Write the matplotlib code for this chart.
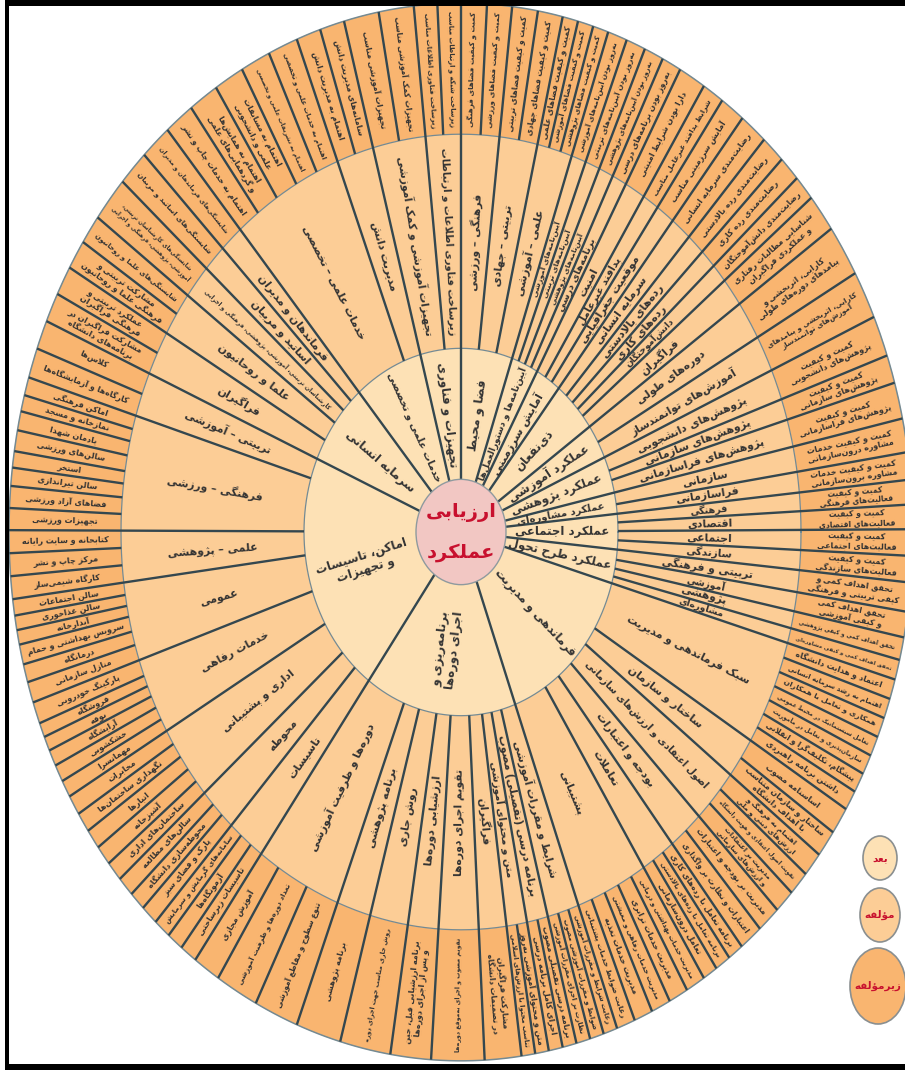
import numpy as np
import matplotlib
matplotlib.use("Agg")
import matplotlib.pyplot as plt
from matplotlib.patches import Polygon, Ellipse, Rectangle

plt.rcParams["font.family"] = ["DejaVu Sans"]

# ---- data -------------------------------------------------------------
CENTER_LABEL = ["ارزیابی", "عملکرد"]
LEGEND_LABELS = ["بعد", "مؤلفه", "زیرمؤلفه"]

DIM_LABELS = ["فضا و محیط", "آیین‌نامه‌ها و دستورالعمل‌ها", "آمایش سرزمینی", "ذی‌نفعان",
              "عملکرد آموزشی", "عملکرد پژوهشی", "عملکرد مشاوره‌ای", "عملکرد اجتماعی",
              "عملکرد طرح تحول", "فرماندهی و مدیریت", "برنامه‌ریزی و اجرای دوره‌ها",
              "اماکن، تاسیسات و تجهیزات", "سرمایه انسانی", "خدمات علمی و تخصصی", "تجهیزات و فناوری"]
DIM_NCOMPS = [3, 4, 3, 5, 2, 3, 2, 4, 4, 6, 9, 8, 5, 2, 2]

COMP_LABELS = ["فرهنگی – ورزشی", "تربیتی – جهادی", "علمی – آموزشی",
               "آیین‌نامه‌های آموزشی", "آیین‌نامه‌های تربیتی", "آیین‌نامه‌های پژوهشی", "برنامه‌های درسی",
               "امنیت", "پدافند غیرعامل", "موقعیت جغرافیایی",
               "سرمایه انسانی", "رده‌های بالادستی", "رده‌های کاری", "دانش‌آموختگان", "فراگیران",
               "دوره‌های طولی", "آموزش‌های توانمندساز",
               "پژوهش‌های دانشجویی", "پژوهش‌های سازمانی", "پژوهش‌های فراسازمانی",
               "سازمانی", "فراسازمانی",
               "فرهنگی", "اقتصادی", "اجتماعی", "سازندگی",
               "تربیتی و فرهنگی", "آموزشی", "پژوهشی", "مشاوره‌ای",
               "سبک فرماندهی و مدیریت", "ساختار و سازمان", "اصول اعتقادی و ارزش‌های سازمانی",
               "بودجه و اعتبارات", "تعاملات", "پشتیبانی",
               "شرایط و مقررات آموزشی", "برنامه درسی (تفصیلی) مصوب", "متن و محتوای آموزشی", "فراگیران",
               "تقویم اجرای دوره‌ها", "ارزشیابی دوره‌ها", "روش جاری", "برنامه پژوهشی",
               "دوره‌ها و ظرفیت آموزشی",
               "تاسیسات", "محوطه", "اداری و پشتیبانی", "خدمات رفاهی", "عمومی", "علمی – پژوهشی",
               "فرهنگی – ورزشی", "تربیتی – آموزشی",
               "فراگیران", "علما و روحانیون", "کارشناسان تربیتی، آموزشی، پژوهشی، فرهنگی و اجرایی",
               "اساتید و مربیان", "فرماندهان و مدیران",
               "خدمات علمی – تخصصی", "مدیریت دانش",
               "تجهیزات آموزشی و کمک آموزشی", "زیرساخت فناوری اطلاعات و ارتباطات"]
COMP_NLEAVES = [2, 2, 3, 1, 1, 1, 1, 1, 1, 1, 1, 1, 1, 1, 1, 1, 1, 1, 1, 1, 1, 1, 1, 1, 1, 1,
                1, 1, 1, 1, 7, 2, 3, 2, 3, 5, 3, 2, 2, 1, 1, 1, 1, 1, 3, 3, 3, 5, 6, 6, 3, 8,
                2, 2, 2, 1, 1, 1, 5, 2, 2, 2]

LEAF_LABELS = [
    "کمیت و کیفیت فضاهای فرهنگی", "کمیت و کیفیت فضاهای ورزشی",
    "کمیت و کیفیت فضاهای تربیتی", "کمیت و کیفیت فضاهای جهادی",
    "کمیت و کیفیت فضاهای علمی", "کمیت و کیفیت فضاهای آموزشی", "کمیت و کیفیت فضاهای پژوهشی",
    "به‌روز بودن آیین‌نامه‌های آموزشی", "به‌روز بودن آیین‌نامه‌های تربیتی",
    "به‌روز بودن آیین‌نامه‌های پژوهشی", "به‌روز بودن برنامه‌های درسی",
    "دارا بودن شرایط امنیتی", "شرایط پدافند غیرعامل مناسب", "آمایش سرزمینی مناسب",
    "رضایت‌مندی سرمایه انسانی", "رضایت‌مندی رده بالادستی", "رضایت‌مندی رده کاری",
    "رضایت‌مندی دانش‌آموختگان", "شناسایی مطالبات رفتاری و عملکردی فراگیران",
    "کارایی، اثربخشی و پیامدهای دوره‌های طولی", "کارایی، اثربخشی و پیامدهای آموزش‌های توانمندساز",
    "کمیت و کیفیت پژوهش‌های دانشجویی", "کمیت و کیفیت پژوهش‌های سازمانی",
    "کمیت و کیفیت پژوهش‌های فراسازمانی",
    "کمیت و کیفیت خدمات مشاوره درون‌سازمانی", "کمیت و کیفیت خدمات مشاوره برون‌سازمانی",
    "کمیت و کیفیت فعالیت‌های فرهنگی", "کمیت و کیفیت فعالیت‌های اقتصادی",
    "کمیت و کیفیت فعالیت‌های اجتماعی", "کمیت و کیفیت فعالیت‌های سازندگی",
    "تحقق اهداف کمی و کیفی تربیتی و فرهنگی", "تحقق اهداف کمی و کیفی آموزشی",
    "تحقق اهداف کمی و کیفی پژوهشی", "تحقق اهداف کمی و کیفی مشاوره‌ای",
    "اعتماد و هدایت دانشگاه", "اهتمام به رشد سرمایه انسانی", "همکاری و تعامل با همکاران",
    "تعامل سیستماتیک در محیط عمومی", "سازمان‌پذیری و تعامل در مأموریت",
    "پیشگام، تکلیف‌گرا و انقلابی", "داشتن برنامه راهبردی",
    "اساسنامه مصوب", "ساختار و سازمان متناسب با اهداف دانشگاه",
    "اهتمام به فرهنگ و ارزش‌های دینی و ملی", "تقویت اصول اعتقادی و هویت دانشگاه",
    "مدیریت بر اعتقادات و ارزش‌های سازمانی",
    "مدیریت بر بودجه و اعتبارات", "اعتبارات و نظارت بر واگذاری",
    "برنامه تعامل با رده‌های کاری", "برنامه تعامل با رده‌های بالادستی", "تعامل درون‌سازمانی",
    "مدیریت خدمات بهداشتی و درمانی", "مدیریت خدمات ترابری", "مدیریت خدمات رفاهی و معیشتی",
    "مدیریت خدمات تغذیه", "رعایت ضوابط خدمات پشتیبانی",
    "رعایت شرایط و مقررات آموزشی", "ضوابط و مقررات آموزشی مصوب", "نظارت بر اجرای مقررات آموزشی",
    "برنامه درسی تفصیلی مصوب", "اجرای کامل برنامه درسی",
    "متن و محتوای آموزشی به‌روز", "تناسب محتوا با ارزش‌های اسلامی",
    "مشارکت فراگیران در تصمیمات دانشگاه", "تقویم مصوب و اجرای به‌موقع دوره‌ها",
    "برنامه ارزشیابی قبل، حین و پس از اجرای دوره‌ها", "روش جاری مناسب جهت اجرای دوره",
    "برنامه پژوهشی",
    "تنوع سطوح و مقاطع آموزشی", "تعداد دوره‌ها و ظرفیت آموزشی", "آموزش مجازی",
    "تاسیسات زیرساختی", "آزمونگاه‌ها", "سامانه‌های گرمایش و سرمایش",
    "پارک و فضای سبز", "محوطه‌سازی دانشگاه", "سالن‌های مطالعه",
    "ساختمان‌های اداری", "آشپزخانه", "انبارها", "نگهداری ساختمان‌ها", "مخابرات",
    "مهمانسرا", "خشکشویی", "آرایشگاه", "بوفه", "فروشگاه", "پارکینگ خودرویی",
    "منازل سازمانی", "درمانگاه", "سرویس بهداشتی و حمام", "آبدارخانه", "سالن غذاخوری", "سالن اجتماعات",
    "کارگاه شیمی‌ساز", "مرکز چاپ و نشر", "کتابخانه و سایت رایانه",
    "تجهیزات ورزشی", "فضاهای آزاد ورزشی", "سالن تیراندازی", "استخر", "سالن‌های ورزشی",
    "یادمان شهدا", "نمازخانه و مسجد", "اماکن فرهنگی",
    "کارگاه‌ها و آزمایشگاه‌ها", "کلاس‌ها",
    "مشارکت فراگیران در برنامه‌های دانشگاه", "عملکرد تربیتی و فرهنگی فراگیران",
    "مشارکت تربیتی و فرهنگی علما و روحانیون", "شایستگی‌های علما و روحانیون",
    "شایستگی‌های کارشناسان تربیتی، آموزشی، پژوهشی، فرهنگی و اجرایی",
    "شایستگی‌های اساتید و مربیان", "شایستگی‌های فرماندهان و مدیران",
    "اهتمام به خدمات چاپ و نشر", "اهتمام به همایش‌ها و گردهمایی‌های علمی",
    "اهتمام به مسابقات علمی و دانشجویی", "اهتمام به تشریفات علمی و تخصصی",
    "اهتمام به خدمات علمی و تخصصی",
    "اهتمام به مدیریت دانش", "سامانه‌های مدیریت دانش",
    "تجهیزات آموزشی مناسب", "تجهیزات کمک آموزشی مناسب",
    "زیرساخت فناوری اطلاعات مناسب", "زیرساخت شبکه و ارتباطات مناسب"]

# angular share of each sub-component (degrees, clockwise from top)
LEAF_SPAN = [3.3, 3.2, 3.3, 3.2, 2, 2, 2,
             2.5, 2.5, 2.5, 2.5,
             3.5, 2.8, 3.2,
             3.6, 3.1, 2.8, 2.8, 4.2,
             5.7, 5.3,
             4.5, 3.1, 4.0,
             3.7, 3.0,
             2.7, 2.7, 2.9, 2.9,
             3.2, 2.8, 2.5, 2.2,
             2.2, 2.2, 2.2, 2.2, 2.2, 2.2, 2.2,
             3, 3,
             2.7, 2.7, 2.6,
             3, 3,
             2, 2, 1.9,
             2.5, 2.5, 2.5, 2.4, 2.4,
             1.8, 1.8, 1.8,
             1.8, 1.8,
             1.75, 1.75,
             4.7, 6.8, 5.2, 6.5, 5.8,
             5.7, 5.5, 3.5,
             2.2, 2.1, 2.2,
             2.2, 2.1, 2.2,
             2.2, 2.2, 2.2, 2.2, 2.2,
             1.9, 1.9, 1.8, 1.6, 1.6, 2.4,
             2.3, 2.0, 2.2, 1.6, 1.6, 1.8,
             2.5, 2.5, 2.5,
             2.4, 2.4, 2.0, 1.8, 2.3, 2.1, 1.8, 2.0,
             3.3, 3.2,
             3.25, 3.25,
             3.25, 3.25,
             5, 4, 4,
             3.84, 3.84, 3.84, 3.84, 3.84,
             3.15, 3.15,
             4.5, 4.5,
             3, 3]

assert len(LEAF_LABELS) == len(LEAF_SPAN) == sum(COMP_NLEAVES)
assert len(COMP_LABELS) == len(COMP_NLEAVES) == sum(DIM_NCOMPS)

# ---- simple Persian shaping (matplotlib has no text shaping) ----------
FORMS = {
    'ء': ('\uFE80', None, None, None), 'آ': ('\uFE81', '\uFE82', None, None),
    'أ': ('\uFE83', '\uFE84', None, None), 'ؤ': ('\uFE85', '\uFE86', None, None),
    'إ': ('\uFE87', '\uFE88', None, None), 'ئ': ('\uFE89', '\uFE8A', '\uFE8B', '\uFE8C'),
    'ا': ('\uFE8D', '\uFE8E', None, None), 'ب': ('\uFE8F', '\uFE90', '\uFE91', '\uFE92'),
    'ة': ('\uFE93', '\uFE94', None, None), 'ت': ('\uFE95', '\uFE96', '\uFE97', '\uFE98'),
    'ث': ('\uFE99', '\uFE9A', '\uFE9B', '\uFE9C'), 'ج': ('\uFE9D', '\uFE9E', '\uFE9F', '\uFEA0'),
    'ح': ('\uFEA1', '\uFEA2', '\uFEA3', '\uFEA4'), 'خ': ('\uFEA5', '\uFEA6', '\uFEA7', '\uFEA8'),
    'د': ('\uFEA9', '\uFEAA', None, None), 'ذ': ('\uFEAB', '\uFEAC', None, None),
    'ر': ('\uFEAD', '\uFEAE', None, None), 'ز': ('\uFEAF', '\uFEB0', None, None),
    'س': ('\uFEB1', '\uFEB2', '\uFEB3', '\uFEB4'), 'ش': ('\uFEB5', '\uFEB6', '\uFEB7', '\uFEB8'),
    'ص': ('\uFEB9', '\uFEBA', '\uFEBB', '\uFEBC'), 'ض': ('\uFEBD', '\uFEBE', '\uFEBF', '\uFEC0'),
    'ط': ('\uFEC1', '\uFEC2', '\uFEC3', '\uFEC4'), 'ظ': ('\uFEC5', '\uFEC6', '\uFEC7', '\uFEC8'),
    'ع': ('\uFEC9', '\uFECA', '\uFECB', '\uFECC'), 'غ': ('\uFECD', '\uFECE', '\uFECF', '\uFED0'),
    'ف': ('\uFED1', '\uFED2', '\uFED3', '\uFED4'), 'ق': ('\uFED5', '\uFED6', '\uFED7', '\uFED8'),
    'ك': ('\uFED9', '\uFEDA', '\uFEDB', '\uFEDC'), 'ل': ('\uFEDD', '\uFEDE', '\uFEDF', '\uFEE0'),
    'م': ('\uFEE1', '\uFEE2', '\uFEE3', '\uFEE4'), 'ن': ('\uFEE5', '\uFEE6', '\uFEE7', '\uFEE8'),
    'ه': ('\uFEE9', '\uFEEA', '\uFEEB', '\uFEEC'), 'و': ('\uFEED', '\uFEEE', None, None),
    'ى': ('\uFEEF', '\uFEF0', None, None), 'ي': ('\uFEF1', '\uFEF2', '\uFEF3', '\uFEF4'),
    'پ': ('\uFB56', '\uFB57', '\uFB58', '\uFB59'), 'چ': ('\uFB7A', '\uFB7B', '\uFB7C', '\uFB7D'),
    'ژ': ('\uFB8A', '\uFB8B', None, None), 'ک': ('\uFB8E', '\uFB8F', '\uFB90', '\uFB91'),
    'گ': ('\uFB92', '\uFB93', '\uFB94', '\uFB95'), 'ی': ('\uFBFC', '\uFBFD', '\uFBFE', '\uFBFF'),
}
LAM_ALEF = {'ا': ('\uFEFB', '\uFEFC'), 'آ': ('\uFEF5', '\uFEF6'),
            'أ': ('\uFEF7', '\uFEF8'), 'إ': ('\uFEF9', '\uFEFA')}


def shape(s):
    out, i, n = [], 0, len(s)
    while i < n:
        c = s[i]
        if c not in FORMS:
            out.append('' if c == '\u200c' else c); i += 1; continue
        prev = s[i - 1] if i > 0 else None
        link_prev = prev in FORMS and FORMS[prev][2] is not None and FORMS[c][1] is not None
        if c == 'ل' and i + 1 < n and s[i + 1] in LAM_ALEF:
            out.append(LAM_ALEF[s[i + 1]][1 if link_prev else 0]); i += 2; continue
        nxt = s[i + 1] if i + 1 < n else None
        link_next = FORMS[c][2] is not None and nxt in FORMS and FORMS[nxt][1] is not None
        iso, fin, ini, med = FORMS[c]
        out.append(med if link_prev and link_next else fin if link_prev else ini if link_next else iso)
        i += 1
    return ''.join(out)


def rtl(s):
    v = shape(s)[::-1]
    return v.replace('(', '\0').replace(')', '(').replace('\0', ')')


def splits(text, k):
    w = text.split(' ')
    if k == 1:
        return [text]
    if len(w) < 2:
        return None
    best = None
    for a in range(1, len(w)):
        ls = [' '.join(w[:a]), ' '.join(w[a:])]
        m = max(len(x) for x in ls)
        if best is None or m < best[0]: best = (m, ls)
    return best[1]


# ---- geometry (pixel space, picture is stretched vertically) ----------
CX, CY, K = 461, 532, 1.17
R0, R1, R2, R3 = 45, 157, 340, 452
C_CENTER, C_DIM, C_COMP, C_LEAF = "#F2C7C3", "#FDE1B5", "#FCCD96", "#F9B570"
LINE, ARC, TXT, RED = "#34474f", "#748a93", "#333333", "#C8102E"


def pt(r, a):
    t = np.radians(a)
    return CX + r * np.cos(t), CY - K * r * np.sin(t)


def wedge(r_in, r_out, a0, a1, color):
    t = np.linspace(a0, a1, max(4, int(abs(a1 - a0) * 2)))
    xo, yo = pt(r_out, t)
    xi, yi = pt(r_in, t[::-1])
    ax.add_patch(Polygon(np.c_[np.r_[xo, xi], np.r_[yo, yi]], closed=True,
                         fc=color, ec=color, lw=0.3, zorder=1))


fig = plt.figure(figsize=(9.05, 10.7), dpi=100)
ax = fig.add_axes([0, 0, 1, 1])
ax.set_xlim(0, 905); ax.set_ylim(1070, 0); ax.axis("off")
renderer = fig.canvas.get_renderer()


def label(text, r_in, r_out, a0, a1, fmax, maxlines, prefer=1.3, lfac=0.92):
    am = (a0 + a1) / 2; t = np.radians(am)
    rm = (r_in + r_out) / 2
    L = (r_out - r_in) * np.hypot(np.cos(t), K * np.sin(t)) * lfac
    W = rm * np.radians(abs(a1 - a0)) * np.hypot(np.sin(t), K * np.cos(t)) * 0.8
    best = None
    for k in range(1, maxlines + 1):
        ls = splits(text, k)
        if ls is None: continue
        s = '\n'.join(rtl(x) for x in ls)
        tt = ax.text(0, 0, s, fontsize=fmax, fontweight="bold", ha="center", va="center",
                     linespacing=1.05)
        bb = tt.get_window_extent(renderer); tt.remove()
        f = fmax * min(1.0, L / bb.width, W / bb.height)
        if best is None or f > best[0] * prefer: best = (f, s)
    rot = np.degrees(np.arctan2(K * np.sin(t), np.cos(t)))
    if rot > 90: rot -= 180
    if rot <= -90: rot += 180
    x, y = pt(rm, am)
    ax.text(x, y, best[1], fontsize=best[0], fontweight="bold", color=TXT, ha="center",
            va="center", rotation=rot, rotation_mode="anchor", linespacing=1.05, zorder=5)


leaf_comp = np.repeat(np.arange(len(COMP_NLEAVES)), COMP_NLEAVES)
comp_dim = np.repeat(np.arange(len(DIM_NCOMPS)), DIM_NCOMPS)
span = np.array(LEAF_SPAN, float) * 360.0 / sum(LEAF_SPAN)
ends = 90 - np.cumsum(span)
starts = ends + span

# leaves
for i in range(len(LEAF_LABELS)):
    wedge(R2, R3, starts[i], ends[i], C_LEAF)
# components
comp_start, comp_end = {}, {}
for i, c in enumerate(leaf_comp):
    comp_start.setdefault(c, starts[i]); comp_end[c] = ends[i]
for c in range(len(COMP_LABELS)):
    wedge(R1, R2, comp_start[c], comp_end[c], C_COMP)
# dimensions
dim_start, dim_end = {}, {}
for c in range(len(COMP_LABELS)):
    d = comp_dim[c]
    dim_start.setdefault(d, comp_start[c]); dim_end[d] = comp_end[c]
for d in range(len(DIM_LABELS)):
    wedge(R0, R1, dim_start[d], dim_end[d], C_DIM)

# arcs
tt = np.linspace(0, 360, 721)
for r, lw in [(R1, 0.9), (R2, 0.9), (R3, 1.1)]:
    x, y = pt(r, tt)
    ax.plot(x, y, color=ARC, lw=lw, zorder=3)

# radial separators
for i in range(len(LEAF_LABELS)):
    c = leaf_comp[i]
    first_comp = i == 0 or leaf_comp[i - 1] != c
    first_dim = first_comp and (c == 0 or comp_dim[c - 1] != comp_dim[c])
    r_in = R0 if first_dim else (R1 if first_comp else R2)
    x, y = pt(np.array([r_in, R3]), np.array([starts[i], starts[i]]))
    ax.plot(x, y, color=LINE, lw=1.7, solid_capstyle="butt", zorder=4)

# center
ax.add_patch(Ellipse((CX, CY), 2 * R0, 2 * R0 * K, fc=C_CENTER, ec="#8f9a9e", lw=1.0, zorder=6))
ax.text(CX, CY - 19, rtl(CENTER_LABEL[0]), fontsize=14, fontweight="bold", color=RED,
        ha="center", va="center", zorder=7)
ax.text(CX, CY + 21, rtl(CENTER_LABEL[1]), fontsize=14, fontweight="bold", color=RED,
        ha="center", va="center", zorder=7)

# labels
for d in range(len(DIM_LABELS)):
    label(DIM_LABELS[d], R0 + 2, R1 - 2, dim_start[d], dim_end[d], 8.5, 2, prefer=1.2, lfac=0.97)
for c in range(len(COMP_LABELS)):
    label(COMP_LABELS[c], R1 + 4, R2 - 4, comp_start[c], comp_end[c], 7.8, 2, prefer=1.7)
for i in range(len(LEAF_LABELS)):
    label(LEAF_LABELS[i], R2 + 3, R3 - 3, starts[i], ends[i], 5.8, 2)

# legend
for (lx, ly, lw_, lh), col, txt in zip([(880, 858, 34, 44), (880, 915, 40, 54), (878, 986, 56, 76)],
                                       [C_DIM, C_COMP, C_LEAF], LEGEND_LABELS):
    ax.add_patch(Ellipse((lx, ly), lw_, lh, fc=col, ec="#8a8f90", lw=1.2, zorder=6))
    ax.text(lx, ly, rtl(txt), fontsize=7.5, fontweight="bold", color=RED, ha="center",
            va="center", zorder=7)

# frame
for rect in [(5, 0, 900, 6), (5, 0, 4, 1070), (5, 1064, 900, 6)]:
    ax.add_patch(Rectangle(rect[:2], rect[2], rect[3], fc="black", ec="none", zorder=10))

fig.savefig("out.png", dpi=100, facecolor="white")
